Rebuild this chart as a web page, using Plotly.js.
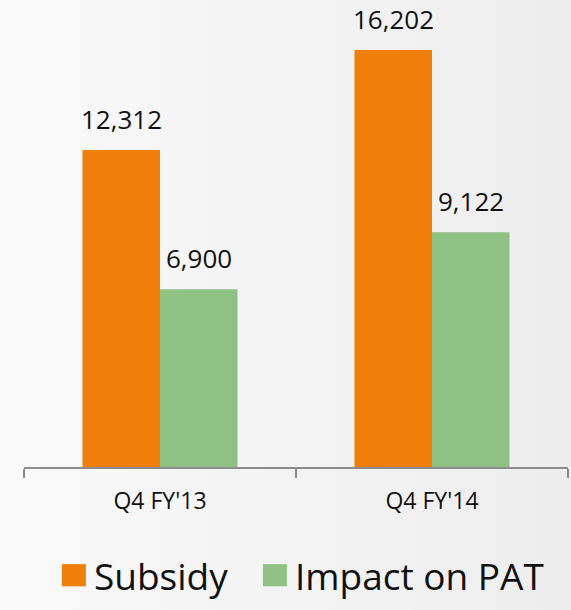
<!DOCTYPE html>
<html>
<head>
<meta charset="utf-8">
<script src="https://cdn.plot.ly/plotly-3.0.1.min.js"></script>
<style>
  html, body { margin: 0; padding: 0; }
  body { width: 571px; height: 610px; background: linear-gradient(to right, #f9f9f9 0%, #f2f2f2 60%, #ededed 100%); }
  #chart { width: 571px; height: 610px; }
</style>
</head>
<body>
<div id="chart"></div>
<script>
const categories = ["Q4 FY'13", "Q4 FY'14"];
const subsidy = [12312, 16202];
const impactOnPAT = [6900, 9122];
const seriesNames = ["Subsidy", "Impact on PAT"];
const seriesColors = ["#EF7E0A", "#8FC184"];

const FONT = '"Open Sans", "Noto Sans", sans-serif';

const traces = [
  { type: 'bar', name: seriesNames[0], x: categories, y: subsidy,
    marker: { color: seriesColors[0] }, hoverinfo: 'none' },
  { type: 'bar', name: seriesNames[1], x: categories, y: impactOnPAT,
    marker: { color: seriesColors[1] }, hoverinfo: 'none' }
];

const seriesValues = [subsidy, impactOnPAT];
const offsets = [-38.75, 38.75];
const annotations = [];
seriesValues.forEach((vals, i) => {
  vals.forEach((v, j) => {
    annotations.push({
      x: categories[j], y: v, xref: 'x', yref: 'y',
      text: v.toLocaleString('en-US'),
      showarrow: false, xanchor: 'center', yanchor: 'bottom',
      xshift: offsets[i], yshift: 11,
      font: { family: FONT, size: 26, color: '#111111' }
    });
  });
});

const layout = {
  width: 571, height: 610,
  margin: { l: 24, r: 3, t: 10, b: 131 },
  paper_bgcolor: 'rgba(0,0,0,0)',
  plot_bgcolor: 'rgba(0,0,0,0)',
  barmode: 'group',
  bargap: 0.43,
  bargroupgap: 0,
  font: { family: FONT, color: '#111111' },
  xaxis: {
    type: 'category',
    showline: true, linecolor: '#8c8c8c', linewidth: 1.5,
    ticks: 'outside', tickson: 'boundaries', ticklen: 9, tickwidth: 1.5, tickcolor: '#8c8c8c',
    tickfont: { family: FONT, size: 23, color: '#111111' },
    ticklabelstandoff: 13,
    showgrid: false, zeroline: false, fixedrange: true
  },
  yaxis: {
    range: [0, 17752], visible: false, showgrid: false, zeroline: false, fixedrange: true
  },
  showlegend: true,
  legend: {
    orientation: 'h', x: 0.055, xanchor: 'left', y: -0.17, yanchor: 'top',
    entrywidth: 156, entrywidthmode: 'pixels',
    font: { family: FONT, size: 37, color: '#111111' },
    bgcolor: 'rgba(0,0,0,0)', itemclick: false, itemdoubleclick: false
  },
  annotations: annotations
};

Plotly.newPlot('chart', traces, layout, { displayModeBar: false, staticPlot: true }).then(() => {
  document.querySelectorAll('#chart .legendpoints path').forEach(p => {
    const t = p.getAttribute('transform') || '';
    p.setAttribute('transform', t + ' scale(2,1.85)');
  });
  document.querySelectorAll('#chart .legend, #chart .legend .scrollbox, #chart .legend g').forEach(g => {
    g.removeAttribute('clip-path');
    g.style.clipPath = 'none';
  });
});
</script>
</body>
</html>
